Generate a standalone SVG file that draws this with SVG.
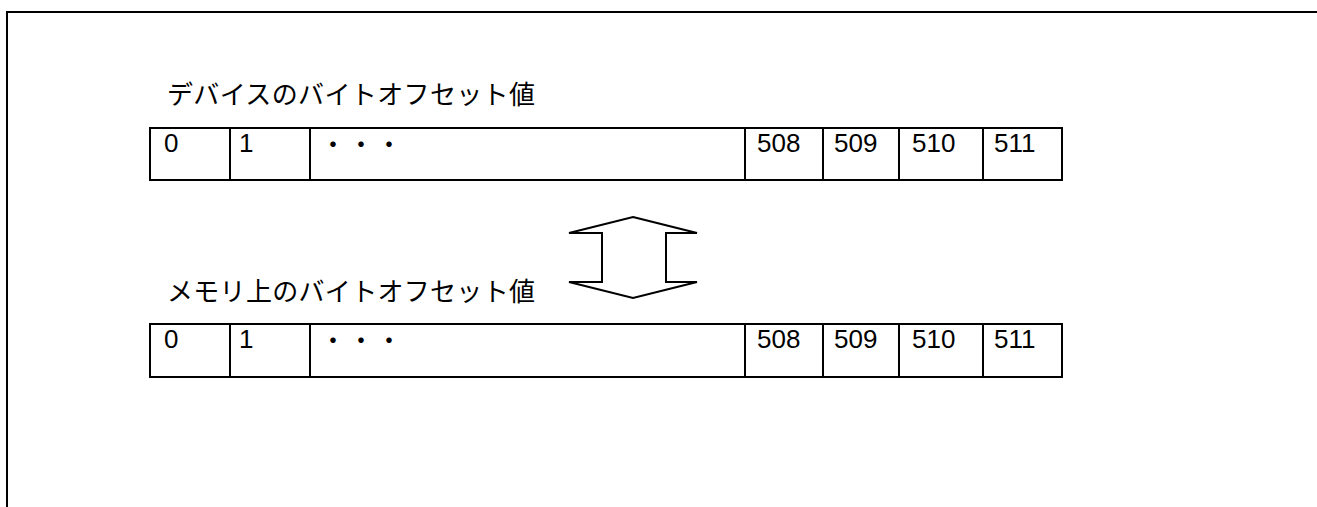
<svg xmlns="http://www.w3.org/2000/svg" width="1317" height="507" viewBox="0 0 1317 507">
<style>
.ln{fill:none;stroke:#000;stroke-width:2}
.cell{fill:#fff;stroke:#000;stroke-width:2}
.t{font-family:"Liberation Sans","Noto Sans CJK JP",sans-serif;font-size:26px;fill:#000}
.j{font-family:"Noto Sans CJK JP",sans-serif;font-size:26px;fill:#000}
.d{font-family:"Noto Sans CJK JP",sans-serif;font-size:26px;fill:#000}
</style>
<rect width="1317" height="507" fill="#fff"/>
<path class="ln" d="M7,507 V12 H1317"/>
<g id="title1"><text class="j" x="167" y="104" textLength="368" lengthAdjust="spacing">デバイスのバイトオフセット値</text></g>
<g id="row1">
<rect class="cell" x="150" y="128" width="912" height="52"/>
<path class="ln" d="M230,128V180M310,128V180M745,128V180M823,128V180M899,128V180M983,128V180"/>
<text class="t" x="164" y="152">0</text>
<text class="t" x="239" y="152">1</text>
<text class="d" x="320" y="154" letter-spacing="2">・・・</text>
<text class="t" x="757" y="152">508</text>
<text class="t" x="834" y="152">509</text>
<text class="t" x="912" y="152">510</text>
<text class="t" x="994" y="152">511</text>
</g>
<g id="title2"><text class="j" x="167" y="301" textLength="368" lengthAdjust="spacing">メモリ上のバイトオフセット値</text></g>
<g id="row2">
<rect class="cell" x="150" y="324" width="912" height="53"/>
<path class="ln" d="M230,324V377M310,324V377M745,324V377M823,324V377M899,324V377M983,324V377"/>
<text class="t" x="164" y="348">0</text>
<text class="t" x="239" y="348">1</text>
<text class="d" x="320" y="350" letter-spacing="2">・・・</text>
<text class="t" x="757" y="348">508</text>
<text class="t" x="834" y="348">509</text>
<text class="t" x="912" y="348">510</text>
<text class="t" x="994" y="348">511</text>
</g>
<g id="connectors">
<polygon class="cell" points="633,217 697,233 666,233 666,282 697,282 633,298 569,282 602,282 602,233 569,233"/>
</g>
</svg>
